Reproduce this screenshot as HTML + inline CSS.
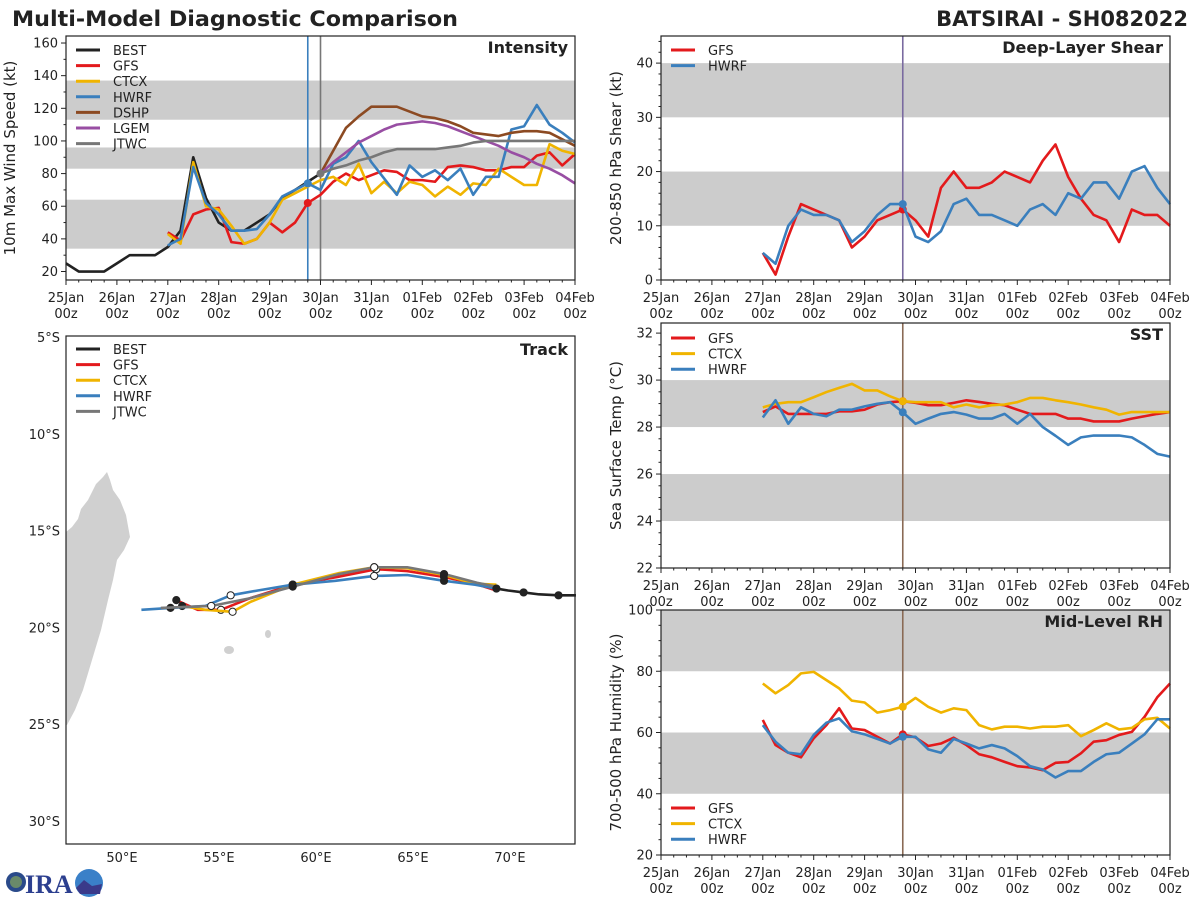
<!DOCTYPE html>
<html><head><meta charset="utf-8"><style>
body{margin:0;background:#fff}
svg{display:block;font-family:"DejaVu Sans","Liberation Sans",sans-serif}
</style></head><body>
<svg id="chart" width="1200" height="900" viewBox="0 0 1200 900" xmlns="http://www.w3.org/2000/svg">
<rect width="1200" height="900" fill="#fff"/>
<text x="12" y="26" font-size="21" font-weight="bold" fill="#222" textLength="446" lengthAdjust="spacingAndGlyphs">Multi-Model Diagnostic Comparison</text>
<text x="1188" y="26" font-size="21" font-weight="bold" fill="#222" text-anchor="end">BATSIRAI - SH082022</text>
<g>
<circle cx="16" cy="882" r="10" fill="#2a4a8a"/><circle cx="16" cy="882" r="6" fill="#6a8a6a"/>
<text x="25" y="893" font-size="26" font-weight="bold" fill="#2c3f8f" font-family="Liberation Serif,serif">IRA</text>
<circle cx="89" cy="883" r="14" fill="#3a80c8"/><path d="M76 888 L84 880 L92 886 L102 884 L100 894 L80 894Z" fill="#3a3a8a"/>
</g>
<g id="plots"></g>
</svg>
<script>
// ---------- DATA ----------
const dayLabels=["25Jan","26Jan","27Jan","28Jan","29Jan","30Jan","31Jan","01Feb","02Feb","03Feb","04Feb"];
const bestWind=[25,20,20,20,25,30,30,30,35,45,90,65,50,45,45,50,55,65,70,75,80];
const gfsWind=[44,39,55,58,59,38,37,40,50,44,50,62,67,75,80,76,79,82,81,76,76,75,84,85,84,82,82,84,84,91,93,85,92];
const ctcxWind=[43,37,87,60,58,48,37,40,50,64,68,72,76,78,73,86,68,75,68,75,73,66,72,67,74,73,83,78,73,73,98,94,92];
const hwrfWind=[36,40,84,62,55,45,45,46,55,66,70,74,70,86,90,100,87,77,67,85,78,82,76,83,67,78,78,107,109,122,110,105,99];
const dshpWind=[80,94,108,115,121,121,121,118,115,114,112,109,105,104,103,105,106,106,105,101,97];
const lgemWind=[80,87,93,99,103,107,110,111,112,111,109,106,103,100,97,93,90,86,83,79,74];
const jtwcWind=[80,83,85,88,90,93,95,95,95,95,96,97,99,100,100,100,100,100,100,100,100];
const gfsShear=[5,1,8,14,13,12,11,6,8,11,12,13,11,8,17,20,17,17,18,20,19,18,22,25,19,15,12,11,7,13,12,12,10];
const hwrfShear=[5,3,10,13,12,12,11,7,9,12,14,14,8,7,9,14,15,12,12,11,10,13,14,12,16,15,18,18,15,20,21,17,14];
const gfsSst=[28.64,28.88,28.56,28.56,28.56,28.56,28.67,28.67,28.74,28.96,29.06,29.1,29.03,28.93,28.93,29.03,29.14,29.07,28.99,28.93,28.74,28.56,28.56,28.56,28.36,28.36,28.24,28.24,28.24,28.36,28.46,28.56,28.64];
const hwrfSst=[28.41,29.14,28.14,28.84,28.56,28.46,28.74,28.74,28.88,28.99,29.06,28.63,28.14,28.36,28.56,28.64,28.53,28.36,28.36,28.56,28.14,28.56,28.0,27.63,27.24,27.56,27.64,27.64,27.64,27.56,27.24,26.86,26.74];
const ctcxSst=[28.84,28.99,29.06,29.06,29.27,29.49,29.67,29.84,29.56,29.56,29.31,29.1,29.06,29.06,29.06,28.84,28.96,28.84,28.93,28.96,29.06,29.24,29.24,29.14,29.06,28.96,28.84,28.74,28.53,28.64,28.64,28.64,28.64];
const gfsRh=[64.1,55.9,53.4,51.9,58.1,62.4,67.9,61.3,60.8,58.6,56.4,59.4,58.4,55.6,56.4,58.3,55.9,52.9,51.9,50.4,49,48.6,47.7,50.1,50.4,53.2,57,57.5,59.2,60.2,65.1,71.5,76];
const hwrfRh=[62.4,57,53.4,52.9,59.2,63.2,64.6,60.4,59.4,57.9,56.4,58.6,58.6,54.5,53.4,57.9,56.4,54.8,55.9,54.8,52.3,49,47.9,45.3,47.4,47.4,50.4,52.9,53.4,56.4,59.4,64.3,64.3];
const ctcxRh=[76,72.8,75.5,79.3,79.8,77.1,74.4,70.4,69.8,66.5,67.3,68.4,71.3,68.4,66.5,67.9,67.3,62.4,61,61.9,61.9,61.3,61.9,61.9,62.4,58.8,60.8,63,61,61.5,64.3,64.8,61.3];
const bestTrack=[[73.4,18.35],[72.5,18.35],[71.5,18.3],[70.7,18.2],[69.9,18.1],[69.3,18.0]];
const gfsTrack=[[69.3,18.1],[68.2,17.75],[66.6,17.4],[64.7,17.1],[63.1,17.0],[61.1,17.4],[58.8,17.8],[56.6,18.5],[55.1,19.1],[53.9,19.1],[52.8,18.6]];
const ctcxTrack=[[69.3,17.8],[68.2,17.75],[66.6,17.3],[64.7,16.95],[63.0,16.9],[61.2,17.2],[58.8,17.8],[56.6,18.7],[55.7,19.2],[54.3,19.1],[53.1,18.9]];
const hwrfTrack=[[69.3,18.0],[68.2,17.8],[66.6,17.6],[64.7,17.3],[63.0,17.35],[61.0,17.6],[58.8,17.8],[57.0,18.1],[55.6,18.35],[54.3,18.9],[52.5,19.0],[51.0,19.1]];
const jtwcTrack=[[69.3,17.9],[68.3,17.7],[66.6,17.25],[64.7,16.9],[63.0,16.9],[61.2,17.25],[58.8,17.9],[56.6,18.5],[54.6,18.9],[52.0,19.0]];
const latTicks=[5,10,15,20,25,30];
const lonTicks=[50,55,60,65,70];

// ---------- HELPERS ----------
const NS="http://www.w3.org/2000/svg";
const root=document.getElementById('plots');
function mk(tag,attrs,parent){const e=document.createElementNS(NS,tag);for(const k in attrs)e.setAttribute(k,attrs[k]);(parent||root).appendChild(e);return e;}
const C={best:"#222",gfs:"#e31a1c",ctcx:"#f0b400",hwrf:"#3a7fbd",dshp:"#8c4a22",lgem:"#984ea3",jtwc:"#777"};

function timePanel(p){
  const g=mk('g',{});
  
  
  const xs=h=>p.x0+h/240*(p.x1-p.x0);
  const ys=v=>p.y1-(v-p.ymin)/(p.ymax-p.ymin)*(p.y1-p.y0);
  p.bands.forEach(b=>{const r=mk('rect',{x:p.x0,y:ys(b[1]),width:p.x1-p.x0,height:ys(b[0])-ys(b[1]),fill:"#cccccc"},g);
    });
  for(let h=0;h<=240;h+=6){const x=xs(h);const L=h%24==0?5:2.5;mk('line',{x1:x,x2:x,y1:p.y1,y2:p.y1+L,stroke:"#222","stroke-width":1},g);}
  dayLabels.forEach((d,i)=>{const x=xs(i*24);
    const t=mk('text',{x:x,y:p.y1+22,"font-size":13,"text-anchor":"middle",fill:"#222"},g);t.textContent=d;
    
    const t2=mk('text',{x:x,y:p.y1+38,"font-size":13,"text-anchor":"middle",fill:"#222"},g);t2.textContent="00z";
    });
  for(let v=Math.ceil(p.ymin/p.minor)*p.minor;v<=p.ymax+1e-9;v+=p.minor){const y=ys(v);
    const maj=Math.abs(v/p.major-Math.round(v/p.major))<1e-6;
    mk('line',{x1:p.x0-(maj?5:2.5),x2:p.x0,y1:y,y2:y,stroke:"#222","stroke-width":1},g);
    if(maj){const t=mk('text',{x:p.x0-8,y:y+4.5,"font-size":13,"text-anchor":"end",fill:"#222"},g);t.textContent=Math.round(v);
      }}
  const yl=mk('text',{x:0,y:0,"font-size":15,"text-anchor":"middle",fill:"#222",transform:`translate(${p.ylx},${(p.y0+p.y1)/2}) rotate(-90)`},g);
  yl.textContent=p.ylabel;
  p.vlines.forEach(v=>{const l=mk('line',{x1:xs(v[0]),x2:xs(v[0]),y1:p.y0,y2:p.y1,stroke:v[1],"stroke-width":1.6},g);
    });
  p.series.forEach(s=>{
    const pts=s.data.map((v,i)=>[xs(s.start+i*6),ys(v)]);
    const pl=mk('polyline',{points:pts.map(q=>q.join(',')).join(' '),fill:"none",stroke:s.color,"stroke-width":2.6,"stroke-linejoin":"round"},g);
    
    if(s.dot!=null){const i=(s.dot-s.start)/6;const c=mk('circle',{cx:pts[i][0],cy:pts[i][1],r:4,fill:s.color},g);
      }
  });
  mk('rect',{x:p.x0,y:p.y0,width:p.x1-p.x0,height:p.y1-p.y0,fill:"none",stroke:"#222","stroke-width":1.2},g);
  const tt=mk('text',{x:p.x1-7,y:p.y0+17,"font-size":16,"font-weight":"bold","text-anchor":"end",fill:"#222"},g);
  tt.textContent=p.title;
  legend(g,p.x0+10,p.legY,p.series.filter(s=>!s.noLeg));
}
function legend(g,x,y,ser){
  ser.forEach((s,i)=>{const yy=y+i*15.6;
    const e=mk('g',{},g);
    mk('line',{x1:x,x2:x+24,y1:yy,y2:yy,stroke:s.color,"stroke-width":3},e);
    const t=mk('text',{x:x+37,y:yy+5,"font-size":13,fill:"#222"},e);t.textContent=s.label;});
}

timePanel({name:'intensity-panel',title:'Intensity',x0:66,x1:575,y0:36,y1:280,ymin:14.8,ymax:164.3,major:20,minor:10,ylx:15,
  ylabel:'10m Max Wind Speed (kt)',bands:[[34,64],[83,96],[113,137]],legY:50,
  vlines:[[114,C.hwrf],[120,"#777"]],
  series:[{label:'BEST',color:C.best,data:bestWind,start:0},
    {label:'GFS',color:C.gfs,data:gfsWind,start:48,dot:114},
    {label:'CTCX',color:C.ctcx,data:ctcxWind,start:48},
    {label:'HWRF',color:C.hwrf,data:hwrfWind,start:48,dot:114},
    {label:'DSHP',color:C.dshp,data:dshpWind,start:120},
    {label:'LGEM',color:C.lgem,data:lgemWind,start:120},
    {label:'JTWC',color:C.jtwc,data:jtwcWind,start:120,dot:120}]});
timePanel({name:'shear-panel',title:'Deep-Layer Shear',x0:661,x1:1170,y0:36,y1:280,ymin:0,ymax:45,major:10,minor:2,ylx:621,
  ylabel:'200-850 hPa Shear (kt)',bands:[[10,20],[30,40]],legY:50,vlines:[[114,"#7a6aa0"]],
  series:[{label:'GFS',color:C.gfs,data:gfsShear,start:48,dot:114},{label:'HWRF',color:C.hwrf,data:hwrfShear,start:48,dot:114}]});
timePanel({name:'sst-panel',title:'SST',x0:661,x1:1170,y0:323,y1:568,ymin:22,ymax:32.43,major:2,minor:0.5,ylx:621,
  ylabel:'Sea Surface Temp (°C)',bands:[[24,26],[28,30]],legY:338,vlines:[[114,"#8a6a55"]],
  series:[{label:'GFS',color:C.gfs,data:gfsSst,start:48,dot:114},{label:'CTCX',color:C.ctcx,data:ctcxSst,start:48,dot:114},{label:'HWRF',color:C.hwrf,data:hwrfSst,start:48,dot:114}]});
timePanel({name:'rh-panel',title:'Mid-Level RH',x0:661,x1:1170,y0:610,y1:855,ymin:20,ymax:100,major:20,minor:5,ylx:621,
  ylabel:'700-500 hPa Humidity (%)',bands:[[40,60],[80,100]],legY:808,vlines:[[114,"#8a6a55"]],
  series:[{label:'GFS',color:C.gfs,data:gfsRh,start:48,dot:114},{label:'CTCX',color:C.ctcx,data:ctcxRh,start:48,dot:114},{label:'HWRF',color:C.hwrf,data:hwrfRh,start:48,dot:114}]});

// ---------- TRACK ----------
(function(){
  const x0=66,x1=575,y0=336,y1=844;
  const lx=lon=>122+(lon-50)*19.4, ly=lat=>337+(lat-5)*19.35;
  const g=mk('g',{});
  const land=mk('polygon',{points:"66,532 72,527 78,519 81,509 88,500 96,484 103,477 107,472 110,480 113,490 120,500 126,515 130,537 124,550 117,560 113,580 108,600 101,630 92,660 83,690 75,710 67,725 66,725",fill:"#d0d0d0"},g);
  
  mk('ellipse',{cx:229,cy:650,rx:5,ry:4,fill:"#d0d0d0"},g);
  mk('ellipse',{cx:268,cy:634,rx:3,ry:4,fill:"#d0d0d0"},g);
  latTicks.forEach(l=>{const t=mk('text',{x:60,y:ly(l)+5,"font-size":13,"text-anchor":"end",fill:"#222"},g);t.textContent=l+"°S";
    });
  lonTicks.forEach(l=>{const t=mk('text',{x:lx(l),y:862,"font-size":13,"text-anchor":"middle",fill:"#222"},g);t.textContent=l+"°E";
    });
  const tr=[['GFS',C.gfs,gfsTrack],['CTCX',C.ctcx,ctcxTrack],['HWRF',C.hwrf,hwrfTrack],['JTWC',C.jtwc,jtwcTrack],['BEST',C.best,bestTrack]];
  tr.forEach(([n,c,d])=>{
    const pl=mk('polyline',{points:d.map(q=>lx(q[0])+','+ly(q[1])).join(' '),fill:"none",stroke:c,"stroke-width":2.6,"stroke-linejoin":"round"},g);
    
    d.forEach((q,i)=>{if(i%2==0&&n!='BEST'&&i>0||n=='BEST'&&i%2==1){const m=mk('circle',{cx:lx(q[0]),cy:ly(q[1]),r:3.6,fill:(i/2)%2==0?"#fff":"#222",stroke:"#222","stroke-width":1},g);
      }});
  });
  mk('rect',{x:x0,y:y0,width:x1-x0,height:y1-y0,fill:"none",stroke:"#222","stroke-width":1.2},g);
  const tt=mk('text',{x:x1-7,y:y0+19,"font-size":16,"font-weight":"bold","text-anchor":"end",fill:"#222"},g);
  tt.textContent="Track";
  legend(g,76,349,[{label:'BEST',color:C.best},{label:'GFS',color:C.gfs},{label:'CTCX',color:C.ctcx},{label:'HWRF',color:C.hwrf},{label:'JTWC',color:C.jtwc}]);
})();
</script>
</body></html>
